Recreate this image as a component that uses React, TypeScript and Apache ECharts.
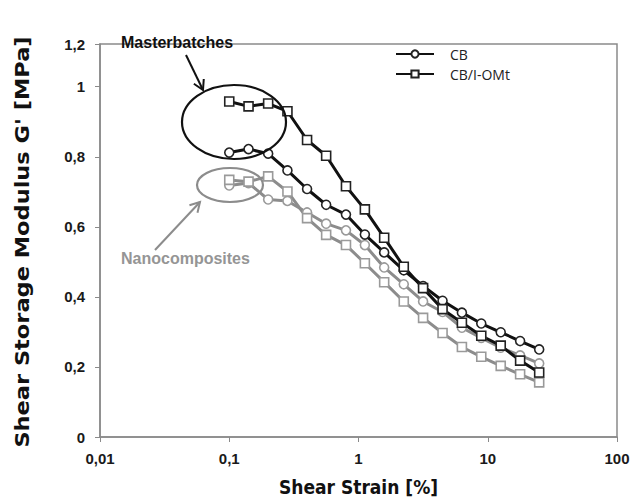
import React, { useEffect, useRef } from "react";
import * as echarts from "echarts";

// Shear strain steps (%), logarithmically spaced
const strain = [0.1, 0.141, 0.2, 0.282, 0.4, 0.562, 0.8, 1.12, 1.58, 2.24, 3.16, 4.47, 6.31, 8.91, 12.6, 17.8, 25];

// Shear storage modulus G' (MPa)
const cbMasterbatch = [0.812, 0.822, 0.809, 0.761, 0.708, 0.663, 0.635, 0.578, 0.527, 0.476, 0.431, 0.389, 0.355, 0.324, 0.299, 0.274, 0.25];
const cbOmtMasterbatch = [0.958, 0.944, 0.952, 0.93, 0.848, 0.803, 0.716, 0.65, 0.569, 0.486, 0.425, 0.365, 0.326, 0.289, 0.261, 0.218, 0.184];
const cbNanocomposite = [0.718, 0.725, 0.678, 0.674, 0.641, 0.609, 0.59, 0.548, 0.484, 0.436, 0.387, 0.357, 0.312, 0.283, 0.255, 0.233, 0.21];
const cbOmtNanocomposite = [0.734, 0.729, 0.744, 0.701, 0.625, 0.577, 0.548, 0.496, 0.442, 0.387, 0.34, 0.297, 0.257, 0.229, 0.203, 0.179, 0.156];

// Y axis tick positions and their labels
const yTicks = [0, 0.2, 0.4, 0.6, 0.8, 1, 1.122];
const yTickLabels = ["0", "0,2", "0,4", "0,6", "0,8", "1", "1,2"];
const xTickLabels: Record<string, string> = { "0.01": "0,01", "0.1": "0,1", "1": "1", "10": "10", "100": "100" };

const pairs = (ys: number[]) => strain.map((x, i) => [x, ys[i]]);

function arrow(x1: number, y1: number, x2: number, y2: number, color: string) {
  const dx = x2 - x1;
  const dy = y2 - y1;
  const len = Math.hypot(dx, dy);
  const ux = dx / len;
  const uy = dy / len;
  const L = 11;
  const bx = x2 - ux * L * 0.87;
  const by = y2 - uy * L * 0.87;
  const px = -uy * L * 0.5;
  const py = ux * L * 0.5;
  return [
    { type: "line", shape: { x1, y1, x2, y2 }, style: { stroke: color, lineWidth: 2 } },
    {
      type: "polyline",
      shape: { points: [[bx + px, by + py], [x2, y2], [bx - px, by - py]] },
      style: { stroke: color, lineWidth: 2, fill: null },
    },
  ];
}

export default function App() {
  const ref = useRef<HTMLDivElement>(null);

  useEffect(() => {
    if (!ref.current) return;
    const chart = echarts.init(ref.current, null, { renderer: "svg" });
    const black = "#111";
    const gray = "#8c8c8c";
    const font = "'Liberation Sans', Arial, sans-serif";
    const titleFont = "'DejaVu Sans Condensed', 'Liberation Sans', sans-serif";

    const lineSeries = (name: string, data: number[], color: string, markerColor: string, symbol: string) => ({
      name,
      type: "line",
      data: pairs(data),
      symbol,
      symbolSize: 9,
      lineStyle: { color, width: 3 },
      itemStyle: { color: "#fff", borderColor: markerColor, borderWidth: 1.6 },
      emphasis: { disabled: true },
    });

    chart.setOption({
      animation: false,
      backgroundColor: "#fff",
      grid: { left: 100, right: 24, top: 44, bottom: 61, show: true, borderColor: "#8a8a8a", borderWidth: 1.5 },
      legend: {
        data: ["CB", "CB/I-OMt"],
        orient: "vertical",
        left: 390,
        top: 42,
        itemWidth: 38,
        itemHeight: 9,
        itemGap: 6,
        textStyle: { fontFamily: "'Open Sans', sans-serif", fontSize: 14, color: "#222", padding: [0, 0, 0, 11] },
      },
      xAxis: {
        type: "log",
        logBase: 10,
        min: 0.01,
        max: 100,
        name: "Shear Strain [%]",
        nameLocation: "middle",
        nameGap: 40,
        nameTextStyle: { fontFamily: titleFont, fontWeight: "bold", fontSize: 19, color: "#111" },
        axisLine: { lineStyle: { color: "#8a8a8a", width: 1.5 } },
        axisTick: { show: true, inside: false, length: 5, lineStyle: { color: "#8a8a8a" } },
        splitLine: { show: false },
        minorTick: { show: false },
        axisLabel: {
          margin: 14,
          fontFamily: font,
          fontWeight: "bold",
          fontSize: 15,
          color: "#1a1a1a",
          formatter: (v: number) => xTickLabels[String(v)] ?? String(v).replace(".", ","),
        },
      },
      yAxis: {
        type: "value",
        min: 0,
        max: 1.122,
        axisLine: { show: true, lineStyle: { color: "#8a8a8a", width: 1.5 } },
        axisTick: { show: true, length: 5, customValues: yTicks, lineStyle: { color: "#8a8a8a" } },
        splitLine: { show: false },
        axisLabel: {
          margin: 15,
          fontFamily: font,
          fontWeight: "bold",
          fontSize: 15,
          color: "#1a1a1a",
          customValues: yTicks,
          formatter: (v: number) => yTickLabels[yTicks.indexOf(v)] ?? "",
        },
      },
      series: [
        lineSeries("CB nanocomposite", cbNanocomposite, gray, "#9a9a9a", "circle"),
        lineSeries("CB/I-OMt nanocomposite", cbOmtNanocomposite, gray, "#9a9a9a", "rect"),
        lineSeries("CB", cbMasterbatch, black, "#222", "circle"),
        lineSeries("CB/I-OMt", cbOmtMasterbatch, black, "#222", "rect"),
      ],
      graphic: [
        // Y axis title, stretched along its length
        {
          type: "text",
          x: 22,
          y: 242,
          rotation: Math.PI / 2,
          scaleX: 1.25,
          style: {
            text: "Shear Storage Modulus G' [MPa]",
            fontFamily: titleFont,
            fontWeight: "bold",
            fontSize: 20,
            fill: "#111",
            align: "center",
            verticalAlign: "middle",
          },
        },
        {
          type: "ellipse",
          shape: { cx: 234, cy: 122, rx: 52, ry: 37 },
          style: { stroke: black, lineWidth: 2.2, fill: null },
          z: 10,
        },
        {
          type: "ellipse",
          shape: { cx: 230, cy: 185, rx: 33, ry: 17 },
          style: { stroke: gray, lineWidth: 2.2, fill: null },
          z: 10,
        },
        ...arrow(186, 55, 203, 90, black).map((g) => ({ ...g, z: 10 })),
        ...arrow(155, 250, 200, 202, gray).map((g) => ({ ...g, z: 10 })),
        {
          type: "text",
          x: 121,
          y: 42,
          style: { text: "Masterbatches", fontFamily: font, fontWeight: "bold", fontSize: 16, fill: black, verticalAlign: "middle" },
          z: 10,
        },
        {
          type: "text",
          x: 121,
          y: 258,
          style: { text: "Nanocomposites", fontFamily: font, fontWeight: "bold", fontSize: 16, fill: "#959595", verticalAlign: "middle" },
          z: 10,
        },
      ],
    });

    return () => chart.dispose();
  }, []);

  return <div ref={ref} style={{ position: "fixed", left: 0, top: 0, width: 641, height: 501 }} />;
}
